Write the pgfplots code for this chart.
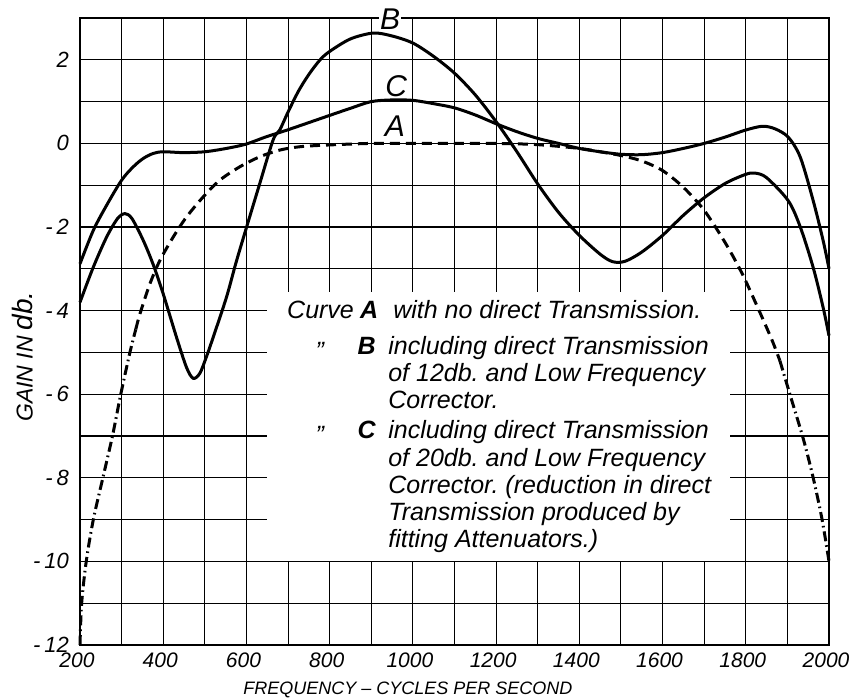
\documentclass[border=0pt]{standalone}
\usepackage{fontspec}
\setmainfont{Liberation Sans}
\usepackage{pgfplots}
\pgfplotsset{compat=1.18}
\frenchspacing
\begin{document}
\begin{tikzpicture}
\begin{axis}[
  scale only axis, width=374.5pt, height=313.5pt,
  xmin=200, xmax=2000, ymin=-12, ymax=3,
  xtick={200,400,...,2000},
  xticklabels={200,400,600,800,1000,1200,1400,1600,1800,2000},
  minor xtick={300,500,...,1900},
  ytick={-12,-10,...,2},
  yticklabels={{-\hspace{2pt}12},{-\hspace{2pt}10},{-\hspace{2pt}8},{-\hspace{2pt}6},{-\hspace{2pt}4},{-\hspace{2pt}2},0,2},
  minor ytick={-11,-9,...,1},
  grid=both,
  major grid style={black, line width=0.55pt},
  minor grid style={black, line width=0.55pt},
  major tick length=0pt, minor tick length=0pt,
  axis line style={line width=0.6pt},
  xticklabel style={font=\fontsize{10.5}{12}\selectfont\itshape, yshift=-0.5pt, xshift=-1.5pt},
  yticklabel style={font=\fontsize{11}{12}\selectfont\itshape, xshift=-2pt},
  clip=false,
]
% white panel for the notes
\fill[white] (axis cs:650,-3.55) rectangle (axis cs:1762,-9.985);

% Curve A (dashed, dash-dot at the steep ends)
\addplot[black, line width=1.5pt, smooth, dash pattern=on 5pt off 2pt on 0.8pt off 2pt] coordinates {
(200,-12) (204,-11) (215,-10) (232,-9) (255,-8) (278,-7) (298,-6) (320,-5) (334,-4.45)
};
\addplot[black, line width=1.5pt, smooth, dash pattern=on 5pt off 3pt] coordinates {
(334,-4.45) (344,-4.08) (368,-3.36) (392,-2.8) (424,-2.24) (456,-1.76) (496,-1.28) (536,-0.88) (584,-0.56) (632,-0.32) (680,-0.16) (728,-0.08) (792,-0.04) (900,0) (1000,0) (1100,0) (1200,0) (1300,-0.03) (1400,-0.12) (1450,-0.2) (1500,-0.29) (1550,-0.42) (1600,-0.65) (1650,-1.05) (1700,-1.6) (1752,-2.4) (1792,-3.13) (1832,-4.0) (1864,-4.73) (1882,-5.2)
};
\addplot[black, line width=1.5pt, smooth, dash pattern=on 5pt off 2pt on 0.8pt off 2pt] coordinates {
(1882,-5.2) (1906,-6.0) (1938,-7.06) (1962,-8.0) (1983,-8.98) (2000,-10.0)
};

% Curve B
\addplot[black, line width=1.5pt, smooth] coordinates {
(200,-3.8) (232,-2.96) (264,-2.24) (290,-1.8) (308,-1.68) (325,-1.8) (352,-2.32) (376,-2.9) (400,-3.6) (432,-4.64) (456,-5.36) (472,-5.62) (488,-5.5) (504,-5.1) (520,-4.64) (552,-3.68) (575,-2.85) (598,-2.08) (632,-0.96) (664,0.08) (680,0.32) (700,0.75) (725,1.25) (750,1.65) (777,2.0) (800,2.2) (850,2.5) (905,2.64) (950,2.57) (1000,2.4) (1050,2.08) (1100,1.68) (1150,1.16) (1200,0.52) (1250,-0.2) (1300,-0.97) (1350,-1.65) (1400,-2.2) (1450,-2.65) (1480,-2.83) (1510,-2.82) (1550,-2.6) (1600,-2.2) (1650,-1.72) (1700,-1.3) (1752,-0.95) (1800,-0.74) (1822,-0.71) (1850,-0.82) (1902,-1.37) (1931,-2.0) (1962,-2.97) (1986,-3.93) (2000,-4.6)
};

% Curve C
\addplot[black, line width=1.5pt, smooth] coordinates {
(200,-2.88) (232,-2.08) (264,-1.48) (300,-0.88) (328,-0.56) (352,-0.36) (376,-0.24) (400,-0.2) (448,-0.22) (500,-0.2) (552,-0.12) (598,-0.02) (648,0.16) (698,0.32) (768,0.56) (800,0.67) (850,0.84) (900,1.0) (950,1.04) (1000,1.03) (1050,0.95) (1100,0.85) (1150,0.68) (1200,0.47) (1250,0.28) (1300,0.12) (1350,0.0) (1400,-0.12) (1450,-0.2) (1500,-0.26) (1550,-0.27) (1600,-0.22) (1650,-0.12) (1700,0.0) (1750,0.15) (1800,0.32) (1840,0.41) (1870,0.35) (1902,0.15) (1931,-0.33) (1962,-1.37) (1986,-2.33) (2000,-3.0)
};

% curve letters
\node[font=\fontsize{15}{16}\selectfont\itshape] at (axis cs:957,0.41) {A};
\node[font=\fontsize{15}{16}\selectfont\itshape] at (axis cs:960,1.37) {C};
\coordinate (Blab) at (axis cs:945,2.98);

% notes
\begin{scope}[every node/.style={anchor=base west, inner sep=0pt, font=\fontsize{12.5}{14}\selectfont\itshape}]
\node at (axis cs:697,-4.18) {Curve};
\node at (axis cs:872,-4.18) {\bfseries A};
\node at (axis cs:952,-4.18) {with no direct Transmission.};
\node at (axis cs:765,-5.05) {\raisebox{-0.35ex}{”}};
\node at (axis cs:866,-5.05) {\bfseries B};
\node at (axis cs:940,-5.05) {including direct Transmission};
\node at (axis cs:940,-5.70) {of 12db. and Low Frequency};
\node at (axis cs:940,-6.35) {Corrector.};
\node at (axis cs:765,-7.07) {\raisebox{-0.35ex}{”}};
\node at (axis cs:866,-7.07) {\bfseries C};
\node at (axis cs:940,-7.07) {including direct Transmission};
\node at (axis cs:940,-7.72) {of 20db. and Low Frequency};
\node at (axis cs:940,-8.37) {Corrector. (reduction in direct};
\node at (axis cs:940,-9.01) {Transmission produced by};
\node at (axis cs:940,-9.66) {fitting Attenuators.)};
\end{scope}

% axis titles
\node[anchor=base, font=\fontsize{9}{10}\selectfont\itshape] at (axis cs:988,-13.19) {FREQUENCY – CYCLES PER SECOND};
\node[rotate=90, font=\itshape] at (axis cs:62,-5.1) {{\fontsize{11.5}{12}\selectfont GAIN IN} {\fontsize{14}{15}\selectfont db.}};
\end{axis}
\node[fill=white, inner sep=0.5pt, font=\fontsize{15}{16}\selectfont\itshape] at (Blab) {B};
\pgfresetboundingbox
\path[use as bounding box] ([xshift=-40pt,yshift=-26.5pt]current axis.south west) rectangle ([xshift=11pt,yshift=9pt]current axis.north east);
\end{tikzpicture}
\end{document}
